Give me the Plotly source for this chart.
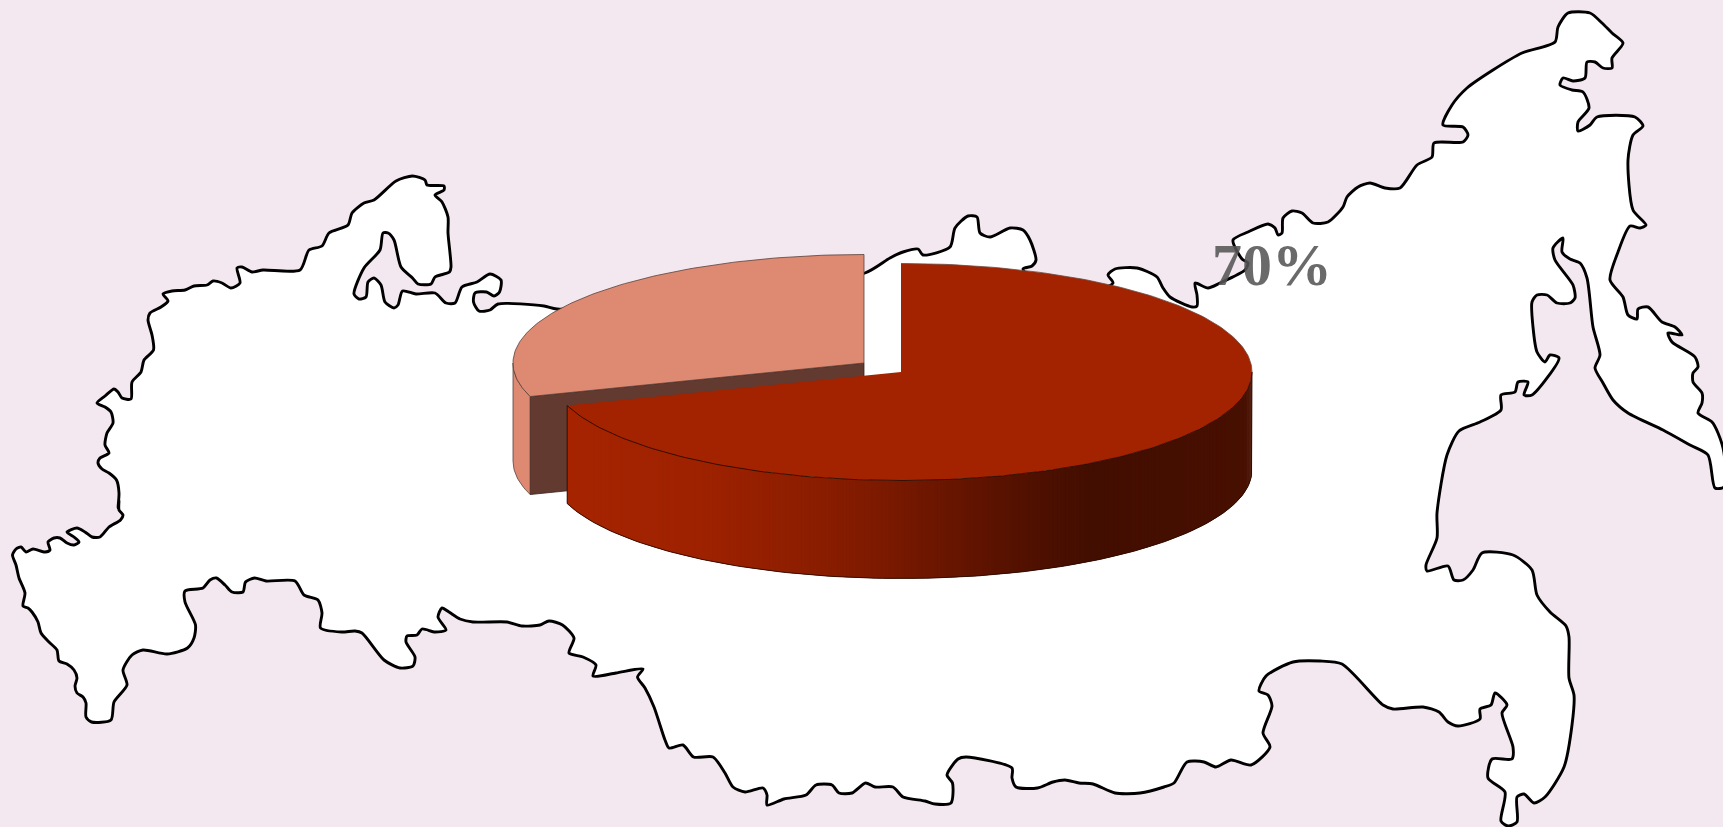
import math
import plotly.graph_objects as go

# Pie data
slice_names = ["Доля 1", "Доля 2"]
slice_values = [70, 30]

# Territory outline, walking clockwise from the Caucasus, in canvas units
border_x = [86,86,83,77,75,77,74,67,59,57,49,41,38,32,28,23,25,19,16,12.5,16,21,26,33,45,50,48,54,60,67,74,79,74,67,77,85,92,100,109,120.5,123,119,119,
    118,119,116.5,109,102,98,100,109,105,107,113,111,105,97,105,114,118,122,131,132,141,144,153.5,152,148,150,161,168,163,172,185,194,207,213,222,231,240,237,242,252,263,300,309,322,329,348,352,364,374,396,412.5,425,427,444,444,435,442,448,448,451,449.5,435,431,418,412.5,401,394,388,383,380,364,354,359,366,368,374,381,385,394,398,402.5,416,435,446,455,462,477,490,501,499.5,494,486.5,475,473.5,479,490,498,544,557,
    700,865,890,903,918,923,950,955,968,977,980,990,1010,1023,1030,1036,1032,1023,1060,1113,1108,1115,1137,1157,1163,1170,1192,1197,1197,1195,1208,1220,1245,1248,1242,1233,1248,1268,1275,1278,1282,1283,1292,1302,
    1313,1328,1343,1347,1358,1370,1385,1400,1417,1432,1434,1463,1468,1463,1443,1452,1467,1493,1522,1555,1558,1568,1590,1602,1612,1623,1612,1612,1603,1595,1587,1585,1573,1563,1560,1572,1583,1589,1578,1578,1590,1597,1635,1643,1633,1628,1633,1646,1640,1630,
    1618,1610,1623,1628,1637,1638,1648,1662,1675,1682,1668,1672,1695,1698,1693,1693,1702,1702,1698,1712,1718,1724,1724,1715,1708,1690,1663,1628,1613,1603,1595,1600,1593,1587,1580,1570,1562,1563,1553,1555,1573,1575,1570,1557,1547,1537,1532,1533,1537,1545,1550,1559,1532,1524,1528,1518,1515,1501,1501,1480,1459,1447,
    1437,1437,1426,1427,1448,1454,1463,1473,1482,1513,1532,1537,1550,1566,1569,1569,1574,1572,1564,1545,1534,1524,1517,1517,1508,1501,1505,1488,1492,1512,1513,1502,1507,1495,1491,1480,1480,1458,1448,1439,1423,1393,1383,1342,1320,1293,1266,1259,1268,1272,1263,1270,1251,
    1231,1216,1204,1187,1174,1164,1140,1115,1093,1079,1065,1053,1037.5,1016,1012,1012,966,958,947,952.5,951,935,925,903,893,875,865.5,852,839,832,816,806,784,767,767,763,745,733,725,713,693.5,683,669,665,
    654,645,637.5,643,616,593,596,583,569,574,562.5,549,540,522,507,473,460,449,442,438,446,435,422,417,407,406,415,413,400,384,362,355,341.5,320.5,322,318,304,295,266,254.5,245.5,243,232,225,216.5,210,203,185,185,195.5,194,187.5,167,143,132,123,127,114,111,91.5,86]
border_y = [717,703,697,693,686,678,670,664,661,650,642,633,622,612,608,606,593,578,565,555,549,547,552,549,552,550,542,538,538,543,545,542,537,532,528,532,537,537,527,520,515,510,500,
    508,493,480,473,469,463,458,453,445,433,423,412,407,403,396,389,392,398,399,382,372,360,350,335,320,313,307,301,294,291,290,286,285,281,283,288,283,268,267,272,270,270,250,246,233,225,213,203,200,181,176,180,185,186,190,195,202,217,233,267,272,277,284,284,278,267,240,233,233,250,268,294,299,297,282,278,285,302,308,305,291,294,293,303,303,287,282,274,280,292,296,292,293,302,311,310,304,306,309,
    300,273,258,252,249,255,247,228,216,217,233,237,228,230,240,260,266,269,300,283,275,269,268,277,288,297,307,306,295,283,288,283,270,263,259,240,232,224,228,235,233,218,211,213,
    223,222,207,197,187,183,188,188,165,157,143,142,135,127,125,105,88,70,53,42,27,13,13,23,33,43,58,68,68,62,62,78,81,78,85,90,92,108,122,131,125,117,117,126,135,160,210,225,228,226,
    252,280,297,315,319,309,307,322,327,335,333,342,357,367,373,382,393,403,413,422,433,453,487,488,455,445,430,413,400,383,368,355,327,278,263,259,252,238,248,260,285,298,303,303,295,295,302,327,352,362,355,358,395,395,382,382,392,395,410,422,431,455,
    513,538,565,571,566,580,580,570,553,555,570,595,612,626,637,678,695,725,767,797,803,794,797,822,826,821,792,778,759,759,747,713,705,693,705,709,719,726,722,712,707,709,705,664,661,662,676,691,695,706,733,747,765,
    760,767,762,762,783,787,793,793,784,783,780,782,788,787,778,768,757,759,775,783,803,804,801,797,787,787,783,793,793,785,785,795,799,805,795,788,792,787,773,757,757,745,748,740,
    707,688,677,669,673,676,665,657,653,638,625,621,625,626,622,622,619,612,608,617,630,632,629,635,636,642,657,666,668,660,633,631,632,628,613,600,595,581,581,578,582,592,592,585,578,580,588,591,602,625,638,648,654,650,655,670,685,702,720,722,717]

# Disc geometry shared by both slices
disc_rx = 351
disc_ry = 108.5
disc_depth = 98
red_center = (901, 372)
salmon_center = (864, 363)

# Colours
bg_color = "#F4E8F0"
red_top = "#A32200"
salmon = "#DE8971"
cut_face = "#623A30"
shade_x = [567, 700, 800, 880, 970, 1040, 1090, 1200, 1252]
shade_rgb = [(166, 36, 0), (158, 34, 0), (142, 30, 0), (124, 26, 0), (98, 20, 0), (78, 16, 0), (66, 14, 0), (70, 15, 0), (72, 16, 0)]


def rim(center, angle):
    """Point on the top ellipse, angle in degrees clockwise from twelve o'clock."""
    a = math.radians(angle)
    return center[0] + disc_rx * math.sin(a), center[1] - disc_ry * math.cos(a)


def arc(center, start, stop, step=1.0):
    count = max(2, int(abs(stop - start) / step) + 1)
    pts = [rim(center, start + (stop - start) * i / (count - 1)) for i in range(count)]
    return [p[0] for p in pts], [p[1] for p in pts]


def shade_at(x):
    if x <= shade_x[0]:
        return shade_rgb[0]
    for i in range(1, len(shade_x)):
        if x <= shade_x[i]:
            t = (x - shade_x[i - 1]) / (shade_x[i] - shade_x[i - 1])
            return tuple(round(a + (b - a) * t) for a, b in zip(shade_rgb[i - 1], shade_rgb[i]))
    return shade_rgb[-1]


def polygon(xs, ys, fill, line_color=None, width=1.0):
    return go.Scatter(
        x=xs, y=ys, mode="lines", fill="toself", fillcolor=fill,
        line=dict(color=line_color or fill, width=width if line_color else 0),
        hoverinfo="skip", showlegend=False,
    )


fig = go.Figure()

# Territory silhouette
fig.add_trace(go.Scatter(
    x=border_x, y=border_y, mode="lines", fill="toself", fillcolor="white",
    line=dict(color="black", width=2.9, shape="spline", smoothing=0.7),
    hoverinfo="skip", showlegend=False,
))

total = sum(slice_values)
red_sweep = 360 * slice_values[0] / total

# Salmon slice: outer wall, cut face, then top
edge = "#5A4038"
wx, wy = arc(salmon_center, red_sweep, 270)
fig.add_trace(polygon(wx + wx[::-1], wy + [v + disc_depth for v in wy[::-1]], salmon, edge, 0.8))
corner = rim(salmon_center, red_sweep)
fig.add_trace(polygon(
    [salmon_center[0], corner[0], corner[0], salmon_center[0], salmon_center[0]],
    [salmon_center[1], corner[1], corner[1] + disc_depth, salmon_center[1] + disc_depth, salmon_center[1]],
    cut_face, "#3A2018", 0.8,
))
tx, ty = arc(salmon_center, red_sweep, 360)
fig.add_trace(polygon(tx + [salmon_center[0], tx[0]], ty + [salmon_center[1], ty[0]], salmon, edge, 0.8))

# Red slice: shaded wall built from narrow overlapping strips
step = 0.5
angle = 90.0
while angle < red_sweep:
    next_angle = min(angle + 2 * step, red_sweep)
    sx, sy = arc(red_center, angle, next_angle, step / 2)
    mid_x = rim(red_center, angle + step / 2)[0]
    color = "rgb(%d,%d,%d)" % shade_at(mid_x)
    fig.add_trace(polygon(sx + sx[::-1], sy + [v + disc_depth for v in sy[::-1]], color))
    angle += step

# Wall contour and top face
wx, wy = arc(red_center, 90, red_sweep)
fig.add_trace(go.Scatter(
    x=[wx[0]] + wx + [wx[-1]], y=[wy[0]] + [v + disc_depth for v in wy] + [wy[-1]],
    mode="lines", line=dict(color="#2A0A00", width=0.9), hoverinfo="skip", showlegend=False,
))
tx, ty = arc(red_center, 0, red_sweep)
fig.add_trace(polygon([red_center[0]] + tx + [red_center[0]], [red_center[1]] + ty + [red_center[1]], red_top))
lx, ly = arc(red_center, 90, red_sweep)
fig.add_trace(go.Scatter(x=lx, y=ly, mode="lines", line=dict(color="#2A0A00", width=0.9),
                         hoverinfo="skip", showlegend=False))
ux, uy = arc(red_center, 0, 90)
fig.add_trace(go.Scatter(x=ux, y=uy, mode="lines", line=dict(color="#6A4A40", width=0.8),
                         hoverinfo="skip", showlegend=False))

# Value label of the large slice
fig.add_trace(go.Scatter(
    x=[1272], y=[270], mode="text", text=[f"{slice_values[0]}%"],
    textposition="middle center",
    textfont=dict(family="Liberation Serif", size=60, color="rgba(85,85,85,0.88)", weight="bold"),
    hoverinfo="skip", showlegend=False,
))

fig.update_layout(
    width=1723, height=827,
    margin=dict(l=0, r=0, t=0, b=0),
    paper_bgcolor=bg_color, plot_bgcolor=bg_color,
    showlegend=False,
    xaxis=dict(range=[0, 1723], visible=False, fixedrange=True),
    yaxis=dict(range=[827, 0], visible=False, fixedrange=True),
)

fig.write_html("out.html", config={"displayModeBar": False})
